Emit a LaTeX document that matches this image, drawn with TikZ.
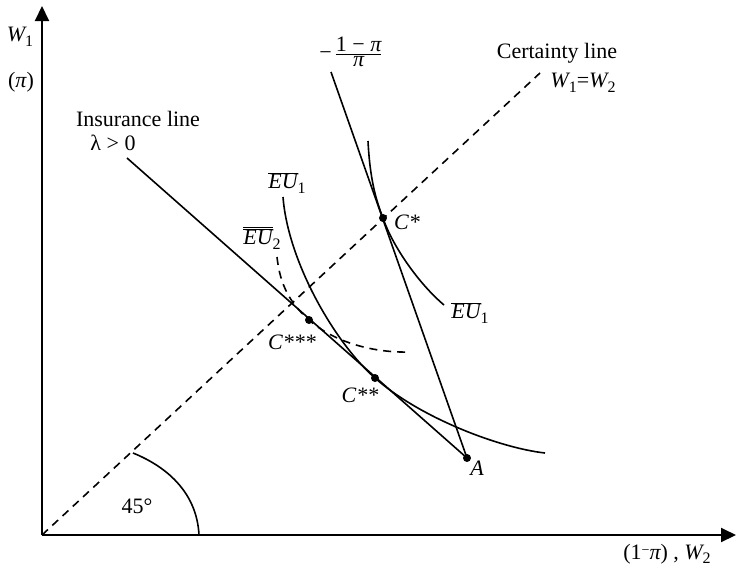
\documentclass[tikz,border=0pt]{standalone}
\usepackage{fontspec}
\setmainfont{Liberation Serif}
\usetikzlibrary{arrows.meta}
\newcommand{\lsub}[1]{\raisebox{-0.45ex}{\upshape\fontsize{16}{18}\selectfont #1}}
\newcommand{\EUone}{$\overline{\hbox{\itshape EU}}$\lsub{1}}
\newcommand{\EUtwo}{$\overline{\overline{\hbox{\itshape EU}}}$\lsub{2}}
\tikzset{
  axisline/.style={line width=2pt,-{Triangle[length=15pt,width=14pt]}},
  curveline/.style={line width=1.6pt},
  certline/.style={line width=1.6pt,dash pattern=on 8pt off 6pt},
  pt/.style={circle,fill=black,inner sep=0pt,minimum size=8pt},
  lbl/.style={inner sep=0pt,font=\fontsize{22}{26}\selectfont}
}
\begin{document}
\begin{tikzpicture}[x=1pt,y=-1pt]
\useasboundingbox (0,0) rectangle (736,568);
% key points
\coordinate (O) at (42,535);
\coordinate (xend) at (736,535);
\coordinate (yend) at (42,6);
\coordinate (cend) at (540,73);
\coordinate (insstart) at (127,158);
\coordinate (steeptop) at (331,72);
\node[pt] (A) at (467,458) {};
\node[pt] (Cs) at (383,218) {};
\node[pt] (Ct) at (309,320) {};
\node[pt] (Cd) at (375,378) {};
% axes
\draw[axisline] (O) -- (yend);
\draw[axisline] (O) -- (xend);
% certainty line
\draw[certline] (O) -- (cend);
% 45 degree arc
\coordinate (arcA) at (199,535);
\coordinate (arcB) at (133,453);
\draw[curveline] (arcA) .. controls (197,495) and (170,468) .. (arcB);
% insurance line
\draw[curveline] (insstart) -- (A.center);
% steep budget line
\draw[curveline] (steeptop) -- (A.center);
% upper EU1
\coordinate (u1) at (368,141);
\coordinate (u2) at (444,305);
\draw[curveline] (u1) .. controls (370,180) and (376,200) .. (Cs.center)
  .. controls (392,245) and (418,283) .. (u2);
% lower EU1
\coordinate (l1) at (283,197);
\coordinate (l2) at (545,453);
\draw[curveline] (l1) .. controls (288,262) and (335,343) .. (Cd.center)
  .. controls (420,418) and (500,448) .. (l2);
% EU2 dashed
\coordinate (d1) at (277,257);
\coordinate (d2) at (410,352);
\draw[certline] (d1) .. controls (280,285) and (290,303) .. (Ct.center)
  .. controls (335,343) and (375,353) .. (d2);
% labels
\node[lbl] (tW1) at (20,37) {\itshape W\lsub{1}};
\node[lbl] (tpi) at (21,82) {(\itshape π\upshape)};
\node[lbl] (tins) at (138,119) {Insurance line};
\node[lbl] (tlam) at (113,143) {λ > 0};
\node[lbl] (tfrac) at (351,52) {\hbox{−}\kern3pt$\frac{\hbox{1 − \itshape π}}{\hbox{\itshape π}}$};
\node[lbl] (tcert) at (557,53) {Certainty line};
\node[lbl] (teq) at (583,83) {\itshape W\lsub{1}\upshape =\itshape W\lsub{2}};
\node[lbl] (tEU1a) at (287,183) {\EUone};
\node[lbl] (tEU2) at (262,238) {\EUtwo};
\node[lbl] (tEU1b) at (470,313) {\EUone};
\node[lbl] (tCs) at (407,222) {\itshape C*};
\node[lbl] (tCt) at (292,342) {\itshape C***};
\node[lbl] (tCd) at (360,395) {\itshape C**};
\node[lbl] (tA) at (477,468) {\itshape A};
\node[lbl] (t45) at (137,506) {45°};
\node[lbl] (txl) at (667,554) {(1\raisebox{0.5ex}{\fontsize{14}{14}\selectfont −}\itshape π\upshape) ,\ \itshape W\lsub{2}};
\end{tikzpicture}
\end{document}
